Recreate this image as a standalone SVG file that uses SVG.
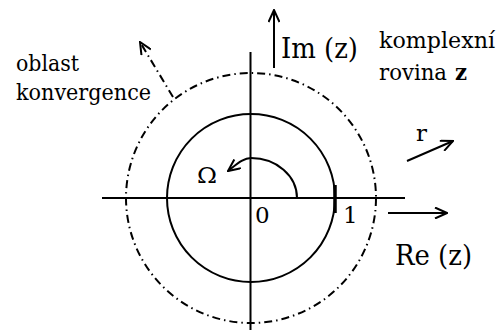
<svg xmlns="http://www.w3.org/2000/svg" width="498" height="330" viewBox="0 0 498 330">
<style>
.ln{stroke:#000;stroke-width:2;fill:none}
.dd{stroke:#000;stroke-width:2;fill:none;stroke-dasharray:8 4 1.5 4}
text{font-family:'DejaVu Serif','Liberation Serif',serif;fill:#000}
</style>
<defs>
<marker id="ah" viewBox="0 0 14 12" refX="13" refY="6" markerWidth="14" markerHeight="12" markerUnits="userSpaceOnUse" orient="auto">
<path d="M1,0.5 L13,6 L1,11.5" fill="none" stroke="#000" stroke-width="2" stroke-dasharray="none"/>
</marker>
</defs>
<rect width="498" height="330" fill="#fff"/>
<g id="circles">
<circle class="ln" cx="251" cy="198" r="84"/>
<circle class="dd" cx="251" cy="198" r="125"/>
</g>
<g id="axes">
<line class="ln" x1="102" y1="198" x2="405" y2="198"/>
<line class="ln" x1="250.5" y1="52" x2="250.5" y2="330"/>
<line x1="335" y1="185" x2="335" y2="213" stroke="#000" stroke-width="3.5"/>
</g>
<g id="connectors">
<line class="ln" x1="274" y1="68" x2="274" y2="10" marker-end="url(#ah)"/>
<line class="ln" x1="388" y1="213" x2="447" y2="213" marker-end="url(#ah)"/>
<line class="ln" x1="407" y1="161" x2="453" y2="141" marker-end="url(#ah)"/>
<line class="dd" x1="173" y1="97" x2="140" y2="42" marker-end="url(#ah)"/>
<path class="ln" d="M297,198 A46,40 0 0 0 251,158 C243,158 236,165 228,171" marker-end="url(#ah)"/>
</g>
<g id="labels">
<text x="16" y="71" font-size="23" textLength="63" lengthAdjust="spacingAndGlyphs">oblast</text>
<text x="16" y="100" font-size="23" textLength="135" lengthAdjust="spacingAndGlyphs">konvergence</text>
<text x="281" y="58" font-size="28" textLength="77" lengthAdjust="spacingAndGlyphs">Im (z)</text>
<text x="379" y="48" font-size="23" textLength="116" lengthAdjust="spacingAndGlyphs">komplexní</text>
<text x="379" y="80" font-size="23" textLength="68" lengthAdjust="spacingAndGlyphs">rovina</text>
<text x="455" y="80" font-size="23" font-weight="bold" textLength="12" lengthAdjust="spacingAndGlyphs">z</text>
<text x="416" y="141" font-size="23">r</text>
<text x="197" y="183" font-size="23" textLength="20" lengthAdjust="spacingAndGlyphs">Ω</text>
<text x="255" y="223" font-size="23">0</text>
<text x="343" y="223" font-size="23">1</text>
<text x="395" y="265" font-size="28" textLength="77" lengthAdjust="spacingAndGlyphs">Re (z)</text>
</g>
</svg>
